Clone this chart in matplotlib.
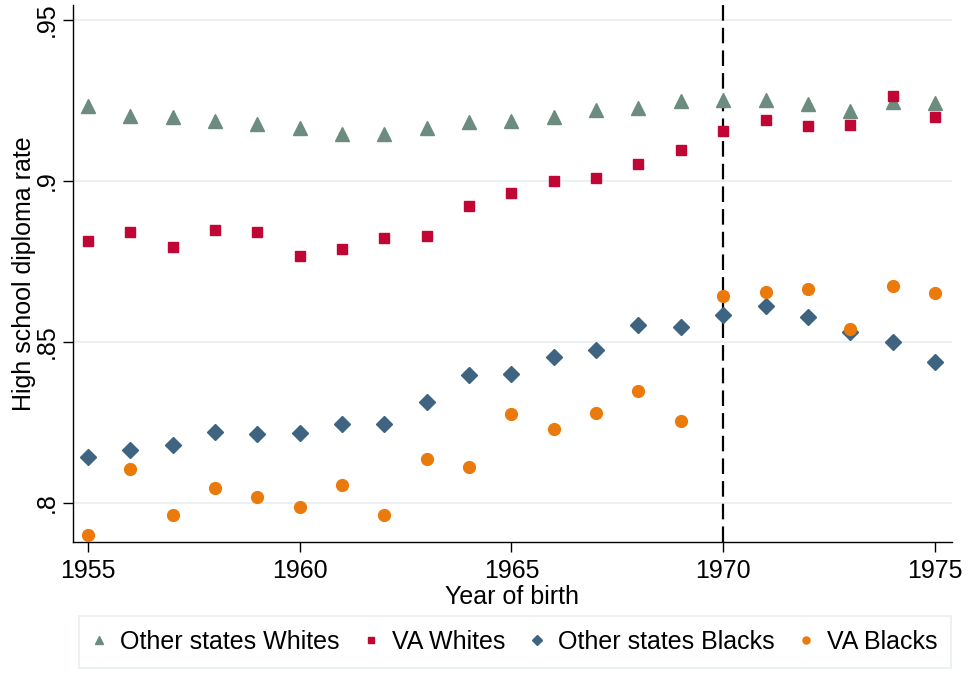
import matplotlib
matplotlib.use("Agg")
import matplotlib.pyplot as plt

plt.rcParams['font.family'] = ['Liberation Sans', 'DejaVu Sans']

# birth cohorts
years = list(range(1955, 1976))

# high school diploma rates
other_whites = [0.9233, 0.9202, 0.9199, 0.9186, 0.9177, 0.9165, 0.9146, 0.9146, 0.9165, 0.9183,
                0.9186, 0.9199, 0.9220, 0.9227, 0.9248, 0.9252, 0.9252, 0.9239, 0.9217, 0.9245, 0.9242]
va_whites = [0.8814, 0.8842, 0.8795, 0.8848, 0.8842, 0.8767, 0.8789, 0.8823, 0.8829, 0.8922,
             0.8963, 0.9000, 0.9009, 0.9053, 0.9096, 0.9155, 0.9189, 0.9171, 0.9174, 0.9264, 0.9199]
other_blacks = [0.8143, 0.8164, 0.8180, 0.8220, 0.8214, 0.8217, 0.8245, 0.8245, 0.8314, 0.8397,
                0.8401, 0.8453, 0.8475, 0.8553, 0.8547, 0.8584, 0.8612, 0.8578, 0.8531, 0.8500, 0.8438]
va_blacks = [0.7900, 0.8105, 0.7963, 0.8046, 0.8018, 0.7987, 0.8056, 0.7963, 0.8137, 0.8112,
             0.8276, 0.8230, 0.8279, 0.8348, 0.8255, 0.8643, 0.8655, 0.8665, 0.8540, 0.8674, 0.8652]

yticks = [0.8, 0.85, 0.9, 0.95]
ytick_labels = ['.8', '.85', '.9', '.95']
xticks = [1955, 1960, 1965, 1970, 1975]

fig = plt.figure(figsize=(9.68, 6.73), dpi=100)
ax = fig.add_axes([0.0754, 0.1947, 0.908, 0.798])

# light horizontal gridlines like Stata
for t in yticks:
    ax.axhline(t, color='#eaf0f3', lw=1.5, zorder=0)

ax.axvline(1970, color='black', lw=1.6, ls=(0, (7, 3.2)), zorder=1)

ax.plot(years, other_whites, ls='none', marker='^', ms=9.5, color='#6b8c7f', label='Other states Whites', zorder=3)
ax.plot(years, va_whites, ls='none', marker='s', ms=7.5, color='#c10534', label='VA Whites', zorder=3)
ax.plot(years, other_blacks, ls='none', marker='D', ms=8.3, color='#3e6481', label='Other states Blacks', zorder=3)
ax.plot(years, va_blacks, ls='none', marker='o', ms=8.5, color='#ea7a0b', label='VA Blacks', zorder=3)

ax.set_xlim(1954.65, 1975.4)
ax.set_ylim(0.7879, 0.9547)
ax.set_xticks(xticks)
ax.set_yticks(yticks)
ax.set_yticklabels(ytick_labels, rotation=90, va='center')
ax.tick_params(axis='both', labelsize=18, length=7, width=1, direction='out')
ax.tick_params(axis='x', pad=5)
ax.tick_params(axis='y', pad=3)

for s in ['top', 'right']:
    ax.spines[s].set_visible(False)
ax.spines['left'].set_linewidth(1)
ax.spines['bottom'].set_linewidth(1)

ax.set_xlabel('Year of birth', fontsize=18, labelpad=2)
ax.set_ylabel('High school diploma rate', fontsize=18, labelpad=-1)

leg = fig.legend(loc='lower center', bbox_to_anchor=(0.532, 0.008), ncol=4, fontsize=18,
                 frameon=True, fancybox=False, edgecolor='#e8eef0', markerscale=0.6,
                 handlelength=0.5, handletextpad=0.6, columnspacing=1.0, borderpad=0.55,
                 borderaxespad=0)
leg.get_frame().set_linewidth(1.5)

fig.savefig('out.png', dpi=100)
